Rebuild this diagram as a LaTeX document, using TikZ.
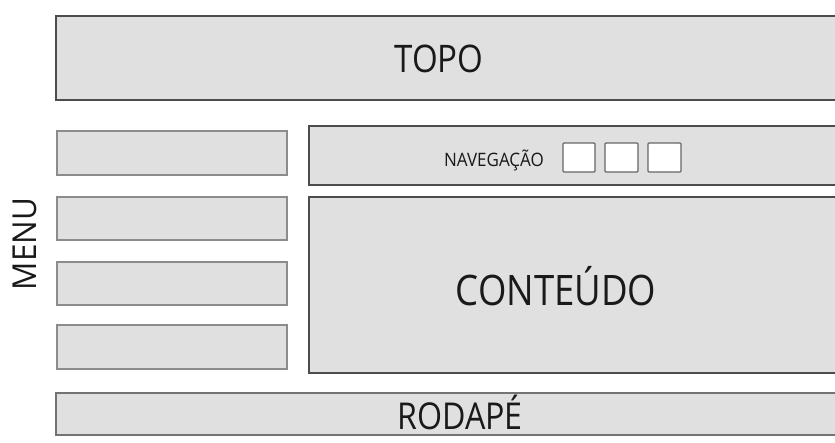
\documentclass[tikz,border=0pt]{standalone}
\usepackage{fontspec}
\setmainfont{Open Sans}
\begin{document}
\begin{tikzpicture}[x=1pt,y=-1pt,
  bigbox/.style={draw=black!70,line width=1.6pt,fill=black!12},
  menubox/.style={draw=black!45,line width=1.3pt,fill=black!12},
  footbox/.style={draw=black!55,line width=1.4pt,fill=black!12},
  navsq/.style={draw=black!60,line width=1.2pt,fill=white,rounded corners=1pt},
  lbl/.style={text=black!90,inner sep=0pt}]
\useasboundingbox (0,0) rectangle (835,443);
\clip (0,0) rectangle (835,443);
\fill[white] (0,0) rectangle (835,443);
% header
\draw[bigbox] (56,16) rectangle (850,100);
\node[lbl,font=\fontsize{38}{40}\selectfont] (topo) at (439,59) {\scalebox{0.87}[1]{TOPO}};
% menu boxes
\draw[menubox] (57,131) rectangle (287,175);
\draw[menubox] (57,197) rectangle (287,240);
\draw[menubox] (57,262) rectangle (287,305);
\draw[menubox] (57,325) rectangle (287,369);
\node[lbl,rotate=90,font=\fontsize{33}{35}\selectfont] (menu) at (25,244) {\scalebox{0.95}[1]{MENU}};
% navigation
\draw[bigbox] (309,126) rectangle (850,185);
\node[lbl,font=\fontsize{18.5}{20}\selectfont] (nav) at (494,160) {\scalebox{0.92}[1]{NAVEGAÇÃO}};
\draw[navsq] (563,143) rectangle (595,172);
\draw[navsq] (605,143) rectangle (638,172);
\draw[navsq] (648,143) rectangle (681,172);
% content
\draw[bigbox] (309,197) rectangle (850,373);
\node[lbl,font=\fontsize{42}{44}\selectfont] (cont) at (556,286) {\scalebox{0.87}[1]{CONTEÚDO}};
% footer
\draw[footbox] (56,393) rectangle (850,435);
\node[lbl,font=\fontsize{37}{40}\selectfont] (rod) at (460,412) {\scalebox{0.87}[1]{RODAPÉ}};
\end{tikzpicture}
\end{document}
